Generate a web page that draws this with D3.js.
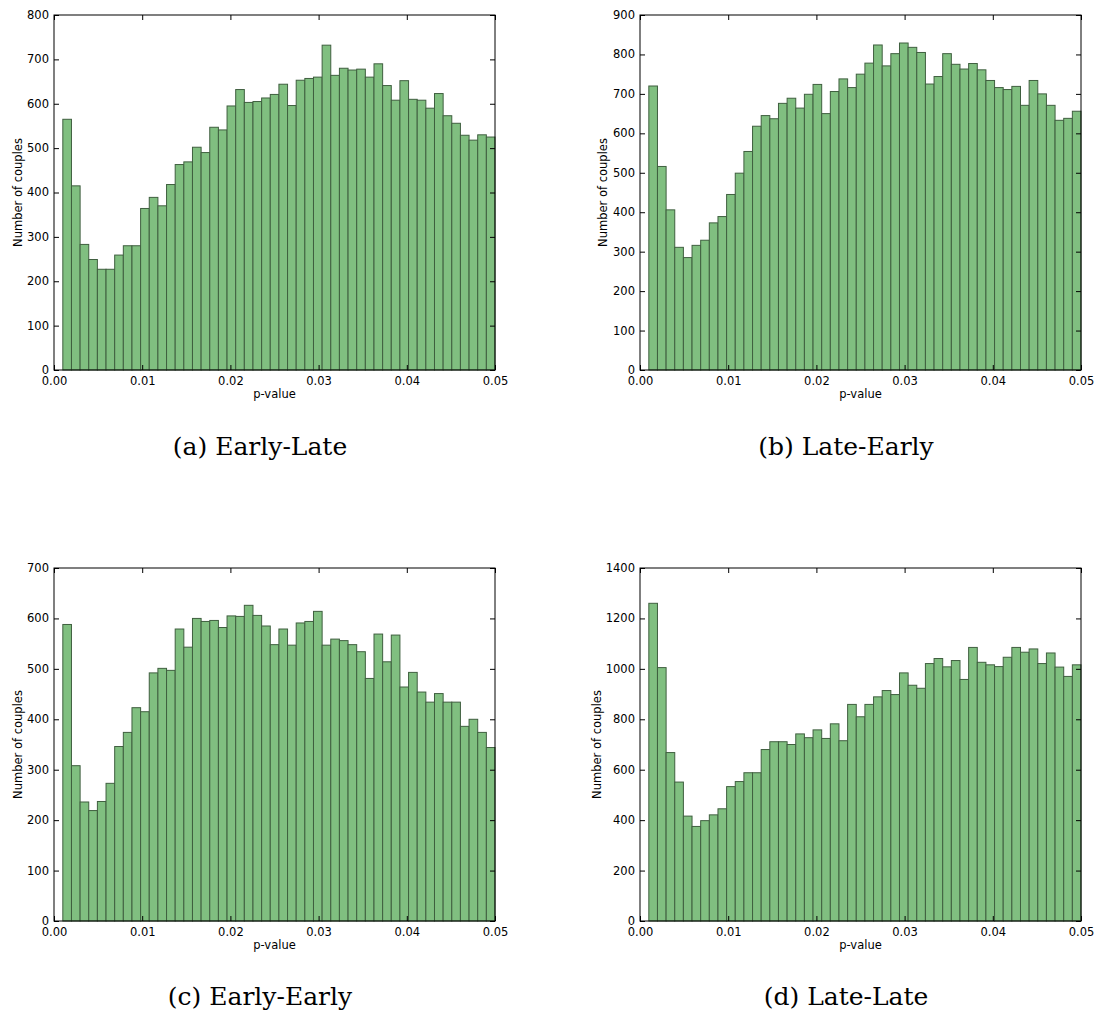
<!DOCTYPE html>
<html>
<head>
<meta charset="utf-8">
<script src="https://cdn.jsdelivr.net/npm/d3@7"></script>
<style>
  body { margin: 0; background: #fff; }
  svg { display: block; }
</style>
</head>
<body>
<svg id="fig" width="1097" height="1014"></svg>
<script>
// histogram counts, 50 bins between p = 0.001 and p = 0.05
const earlyLate = [565, 415, 283, 249, 227, 227, 259, 280, 280, 364, 389, 370, 418, 463, 469, 502, 490, 547, 541, 595,
  632, 603, 605, 613, 621, 644, 596, 653, 657, 660, 732, 664, 680, 676, 678, 660, 690, 641, 608, 652,
  610, 608, 590, 623, 573, 556, 529, 518, 530, 525];
const lateEarly = [720, 516, 406, 311, 285, 316, 329, 373, 389, 445, 499, 554, 618, 645, 637, 676, 689, 664, 699, 724,
  650, 706, 738, 716, 750, 778, 824, 771, 802, 829, 818, 805, 725, 744, 802, 775, 763, 777, 761, 734,
  716, 711, 719, 671, 734, 700, 671, 633, 638, 656];
const earlyEarly = [588, 308, 236, 219, 237, 273, 346, 374, 423, 415, 492, 501, 497, 579, 543, 600, 594, 596, 582, 605,
  604, 626, 606, 585, 548, 579, 547, 591, 594, 614, 547, 559, 556, 548, 534, 481, 569, 514, 567, 464,
  493, 454, 434, 451, 434, 434, 386, 400, 374, 344];
const lateLate = [1260, 1005, 668, 551, 416, 375, 398, 421, 445, 533, 553, 588, 588, 680, 711, 711, 700, 742, 727, 758,
  724, 782, 715, 859, 810, 859, 889, 914, 898, 984, 935, 923, 1021, 1041, 1008, 1033, 958, 1085, 1026, 1016,
  1009, 1046, 1085, 1066, 1079, 1021, 1063, 1007, 970, 1016];

const pMin = 0.001, pMax = 0.05;
const xTicks = [0, 0.01, 0.02, 0.03, 0.04, 0.05];
const yMaxes = [800, 900, 700, 1400];
const yStep = [100, 100, 100, 200];
const captions = ['(a) Early-Late', '(b) Late-Early', '(c) Early-Early', '(d) Late-Late'];
const series = [earlyLate, lateEarly, earlyEarly, lateLate];

const boxes = [
  {l: 54, t: 15, r: 495, b: 370, cx: 260, cy: 455},
  {l: 640, t: 15, r: 1081, b: 370, cx: 846, cy: 455},
  {l: 54, t: 568, r: 495, b: 921, cx: 260, cy: 1005},
  {l: 640, t: 568, r: 1081, b: 921, cx: 846, cy: 1005}
];

const svg = d3.select('#fig');
const tickFont = 'DejaVu Sans, sans-serif';

function drawPanel(i) {
  let box = boxes[i];
  let data = series[i];
  let g = svg.append('g');

  let x = d3.scaleLinear().domain([0, 0.05]).range([box.l, box.r]);
  let y = d3.scaleLinear().domain([0, yMaxes[i]]).range([box.b, box.t]);
  let bw = (pMax - pMin) / data.length;

  g.selectAll('rect.bar')
    .data(data)
    .enter()
    .append('rect')
    .attr('class', 'bar')
    .attr('x', (d, k) => x(pMin + k * bw))
    .attr('y', d => y(d))
    .attr('width', (d, k) => x(pMin + (k + 1) * bw) - x(pMin + k * bw))
    .attr('height', d => y(0) - y(d))
    .style('fill', '#80bf80')
    .style('stroke', '#3f5f3f')
    .style('stroke-width', 1);

  let yTicks = d3.range(0, yMaxes[i] + 1, yStep[i]);

  // axes: labels from d3 axes, inward ticks on all four sides
  let bottom = g.append('g')
    .attr('transform', `translate(0,${box.b})`)
    .call(d3.axisBottom(x).tickValues(xTicks).tickFormat(d3.format('.2f')).tickSizeInner(-5).tickSizeOuter(0).tickPadding(7));
  let top = g.append('g')
    .attr('transform', `translate(0,${box.t})`)
    .call(d3.axisTop(x).tickValues(xTicks).tickFormat('').tickSizeInner(-5).tickSizeOuter(0));
  let left = g.append('g')
    .attr('transform', `translate(${box.l},0)`)
    .call(d3.axisLeft(y).tickValues(yTicks).tickFormat(d3.format('d')).tickSizeInner(-5).tickSizeOuter(0).tickPadding(5));
  let right = g.append('g')
    .attr('transform', `translate(${box.r},0)`)
    .call(d3.axisRight(y).tickValues(yTicks).tickFormat('').tickSizeInner(-5).tickSizeOuter(0));

  [bottom, top, left, right].forEach(a => {
    a.select('.domain').remove();
    a.selectAll('line').style('stroke', '#000');
    a.selectAll('text')
      .style('font-family', tickFont)
      .style('font-size', '11.5px')
      .style('fill', '#000');
  });
  bottom.selectAll('text').attr('dy', '0.72em');
  left.selectAll('text').attr('dy', '0.3em');

  g.append('rect')
    .attr('x', box.l)
    .attr('y', box.t)
    .attr('width', box.r - box.l)
    .attr('height', box.b - box.t)
    .style('fill', 'none')
    .style('stroke', '#000')
    .style('stroke-width', 1);

  g.append('text')
    .attr('x', (box.l + box.r) / 2)
    .attr('y', box.b + 28)
    .attr('text-anchor', 'middle')
    .style('font-family', tickFont)
    .style('font-size', '11.5px')
    .text('p-value');

  let labelX = i % 2 === 0 ? 18 : (i === 3 ? 597 : 603);
  g.append('text')
    .attr('transform', `translate(${labelX},${(box.t + box.b) / 2}) rotate(-90)`)
    .attr('text-anchor', 'middle')
    .attr('dy', '0.35em')
    .style('font-family', tickFont)
    .style('font-size', '11.5px')
    .text('Number of couples');

  svg.append('text')
    .attr('x', box.cx)
    .attr('y', box.cy)
    .attr('text-anchor', 'middle')
    .style('font-family', 'DejaVu Serif, serif')
    .style('font-size', '25px')
    .text(captions[i]);
}

window.onload = function () {
  for (let i = 0; i < 4; i++) drawPanel(i);
};
</script>
</body>
</html>
